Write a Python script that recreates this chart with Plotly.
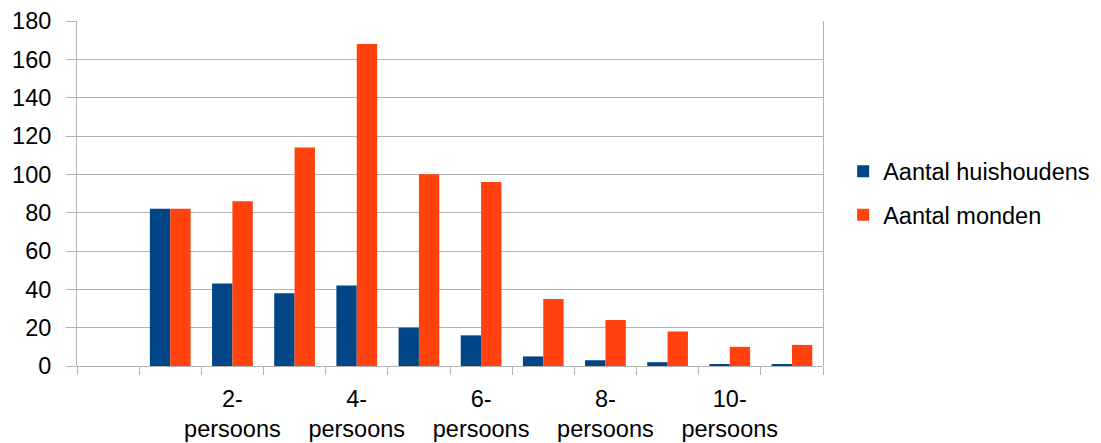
import plotly.graph_objects as go

categories = [" ", "1-persoons", "2-persoons", "3-persoons", "4-persoons", "5-persoons",
              "6-persoons", "7-persoons", "8-persoons", "9-persoons", "10-persoons", "11-persoons"]
huishoudens = [None, 82, 43, 38, 42, 20, 16, 5, 3, 2, 1, 1]
monden = [None, 82, 86, 114, 168, 100, 96, 35, 24, 18, 10, 11]
shown_labels = {"2-persoons", "4-persoons", "6-persoons", "8-persoons", "10-persoons"}
tick_text = [c.replace("-", "-<br>") if c in shown_labels else "" for c in categories]

font_family = "Liberation Sans, Arial, sans-serif"
grid = "#b3b3b3"

fig = go.Figure()
fig.add_trace(go.Bar(x=categories, y=huishoudens, name="Aantal huishoudens",
                     marker=dict(color="#004586", line=dict(width=0)), legendgroup="a"))
fig.add_trace(go.Bar(x=categories, y=monden, name="Aantal monden",
                     marker=dict(color="#ff420e", line=dict(width=0)), legendgroup="b"))

fig.update_layout(
    width=1101, height=443,
    margin=dict(l=69, r=286, t=13, b=85),
    paper_bgcolor="white", plot_bgcolor="white",
    barmode="group", bargap=0.345, bargroupgap=0,
    font=dict(family=font_family, size=23.5, color="#000000"),
    showlegend=True,
    legend=dict(x=1.027, y=0.5, xanchor="left", yanchor="middle",
                traceorder="grouped", tracegroupgap=10,
                font=dict(size=23.5, color="#000000")),
    xaxis=dict(type="category", categoryorder="array", categoryarray=categories,
               tickmode="array", tickvals=categories, ticktext=tick_text,
               tickson="boundaries", ticks="outside", ticklen=8, tickcolor=grid,
               showgrid=False, showline=False, zeroline=False, tickangle=0,
               automargin=False, ticklabelstandoff=16),
    yaxis=dict(range=[0, 180], dtick=20, showgrid=True, gridcolor=grid, gridwidth=1,
               ticks="outside", ticklen=10, tickcolor=grid,
               showline=True, linecolor=grid, linewidth=1, mirror=True,
               zeroline=True, zerolinecolor=grid, zerolinewidth=1,
               ticklabelstandoff=10, automargin=False),
)

fig.write_html("out.html")
